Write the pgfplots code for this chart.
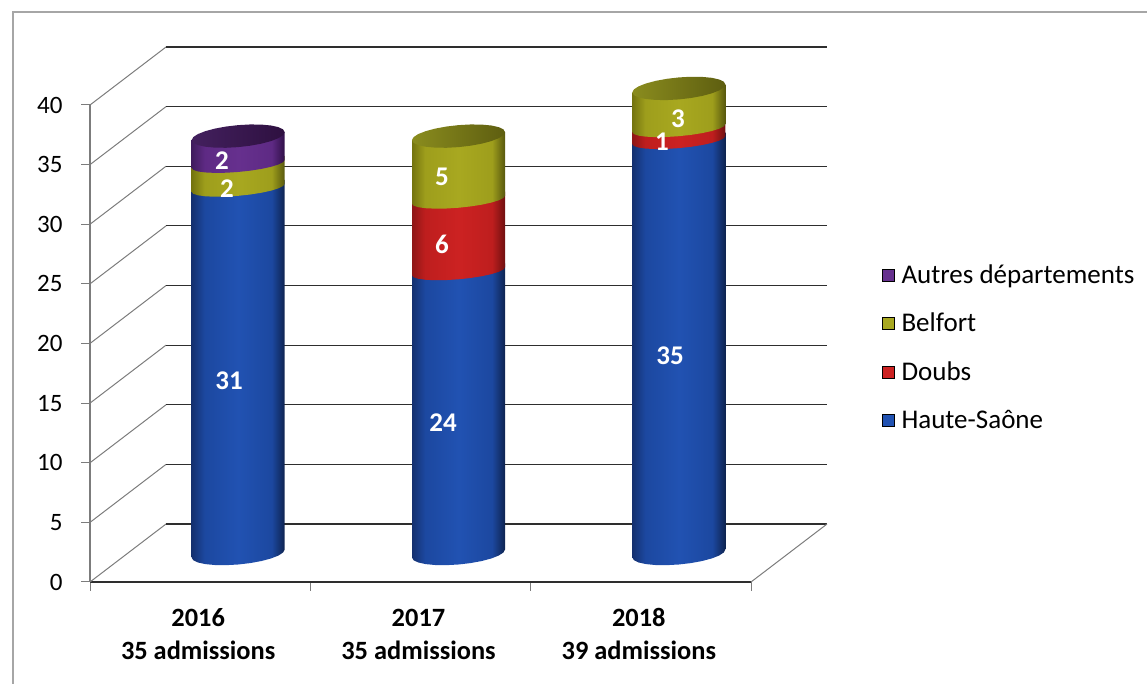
\documentclass[border=0pt]{standalone}
\usepackage{fontspec}
\setmainfont{Carlito}
\usepackage{pgfplots}
\usepackage{pgfplotstable}
\pgfplotsset{compat=1.18}

\definecolor{bE}{HTML}{14306F}\definecolor{bL}{HTML}{1C48A0}\definecolor{bM}{HTML}{2152B2}\definecolor{bR}{HTML}{0E2350}
\definecolor{rE}{HTML}{8E1616}\definecolor{rL}{HTML}{BE1E1E}\definecolor{rM}{HTML}{CC2222}\definecolor{rR}{HTML}{701010}
\definecolor{oE}{HTML}{74740F}\definecolor{oL}{HTML}{9E9E1C}\definecolor{oM}{HTML}{A8A820}\definecolor{oR}{HTML}{58580E}
\definecolor{pE}{HTML}{401C5E}\definecolor{pL}{HTML}{5E2A84}\definecolor{pM}{HTML}{66308E}\definecolor{pR}{HTML}{301048}
\definecolor{oT1}{HTML}{8A8C1E}\definecolor{oT2}{HTML}{5E5E10}
\definecolor{pT1}{HTML}{43205E}\definecolor{pT2}{HTML}{2E1040}

% Horizontal shadings that give the cylinders their round look
\pgfdeclarehorizontalshading{blueshade}{100bp}{color(0bp)=(bE);color(25bp)=(bE);color(32bp)=(bL);color(50bp)=(bM);color(68bp)=(bL);color(75bp)=(bR);color(100bp)=(bR)}
\pgfdeclarehorizontalshading{redshade}{100bp}{color(0bp)=(rE);color(25bp)=(rE);color(32bp)=(rL);color(50bp)=(rM);color(68bp)=(rL);color(75bp)=(rR);color(100bp)=(rR)}
\pgfdeclarehorizontalshading{oliveshade}{100bp}{color(0bp)=(oE);color(25bp)=(oE);color(32bp)=(oL);color(50bp)=(oM);color(68bp)=(oL);color(75bp)=(oR);color(100bp)=(oR)}
\pgfdeclarehorizontalshading{purpleshade}{100bp}{color(0bp)=(pE);color(25bp)=(pE);color(32bp)=(pL);color(50bp)=(pM);color(68bp)=(pL);color(75bp)=(pR);color(100bp)=(pR)}
\pgfdeclarehorizontalshading{olivecap}{100bp}{color(0bp)=(oT1);color(25bp)=(oT1);color(75bp)=(oT2);color(100bp)=(oT2)}
\pgfdeclarehorizontalshading{purplecap}{100bp}{color(0bp)=(pT1);color(25bp)=(pT1);color(75bp)=(pT2);color(100bp)=(pT2)}

% Front half of a cylinder slice, closed by its two upper corners
\pgfplotstableread{
c s u
-1 0 0
-0.966 -0.259 0
-0.866 -0.5 0
-0.707 -0.707 0
-0.5 -0.866 0
-0.259 -0.966 0
0 -1 0
0.259 -0.966 0
0.5 -0.866 0
0.707 -0.707 0
0.866 -0.5 0
0.966 -0.259 0
1 0 0
1 0 1
-1 0 1
}\slicetable

% Full ring of the top face
\pgfplotstableread{
c s
1 0
0.966 0.259
0.866 0.5
0.707 0.707
0.5 0.866
0.259 0.966
0 1
-0.259 0.966
-0.5 0.866
-0.707 0.707
-0.866 0.5
-0.966 0.259
-1 0
-0.966 -0.259
-0.866 -0.5
-0.707 -0.707
-0.5 -0.866
-0.259 -0.966
0 -1
0.259 -0.966
0.5 -0.866
0.707 -0.707
0.866 -0.5
0.966 -0.259
}\captable

% Depth shift of the cylinders and shape of their ellipses, in axis units
\newcommand{\depthx}{0.1725}
\newcommand{\depthy}{2.39}
\newcommand{\halfwidth}{0.2111}
\newcommand{\tilt}{0.3354}

% #1 category, #2 lower value, #3 upper value, #4 shading, #5 arc depth, #6 arc drop
\newcommand{\slice}[6]{%
  \addplot[forget plot,draw=none,shading=#4] table[
    x expr={#1+\depthx+\halfwidth*\thisrow{c}},
    y expr={\depthy+(1-\thisrow{u})*#2+\thisrow{u}*#3+\tilt*\thisrow{c}+#5*\thisrow{s}-#6*(1-\thisrow{u})}
  ] {\slicetable};}
% #1 category, #2 value at the top, #3 shading
\newcommand{\topface}[3]{%
  \addplot[forget plot,draw=none,shading=#3] table[
    x expr={#1+\depthx+\halfwidth*\thisrow{c}},
    y expr={\depthy+#2+\tilt*\thisrow{c}+0.9224*\thisrow{s}}
  ] {\captable};}

\definecolor{wallgrey}{HTML}{7C7C7C}
\definecolor{gridblack}{HTML}{2E2E2E}
\definecolor{framegrey}{HTML}{A6A6A6}

\begin{document}
\begin{tikzpicture}[x=1pt,y=1pt]
\path[use as bounding box] (0,0) rectangle (1147,684);
% Outer frame of the chart area
\draw[framegrey,line width=1.4pt] (13,0) -- (13,672) -- (1147,672);

\begin{axis}[
  at={(90pt,102pt)},anchor=south west,
  scale only axis,width=661pt,height=477pt,
  xmin=-0.5,xmax=2.5,ymin=0,ymax=40,
  clip=false,
  axis x line*=bottom,axis y line*=left,
  axis line style={-,draw=wallgrey,line width=1.2pt},
  x axis line style={draw=gridblack,line width=1.2pt},
  ytick={0,5,...,40},
  xtick={-0.5,0.5,1.5,2.5},xticklabels={},
  extra x ticks={0,1,2},
  extra x tick labels={{\strut 2016\\35 admissions},{\strut 2017\\35 admissions},{\strut 2018\\39 admissions}},
  extra x tick style={major tick length=0pt},
  xticklabel style={align=center,font=\fontsize{26.4}{33}\selectfont\bfseries,yshift=-18pt,xshift=-2pt},
  yticklabel style={font=\fontsize{25}{25}\selectfont,xshift=-15pt},
  /pgf/number format/assume math mode=true,
  tick align=outside,major tick length=9pt,
  tick style={draw=wallgrey,line width=1pt},
  legend style={at={(1.1935,0.674)},anchor=north west,draw=none,fill=none,
    font=\fontsize{27}{27}\selectfont,row sep=24.2pt,
    /tikz/every odd column/.append style={column sep=5pt}},
  legend cell align=left,
  legend image code/.code={\fill[#1] (-3pt,-6pt) rectangle (9pt,6pt);},
]
% Floor and back wall of the box
\pgfplotsinvokeforeach{0,5,...,40}{
  \draw[wallgrey,line width=1pt] (axis cs:-0.5,#1) -- (axis cs:-0.155,{#1+4.863});
  \draw[gridblack,line width=1.2pt] (axis cs:-0.155,{#1+4.863}) -- (axis cs:2.845,{#1+4.863});
}
\draw[wallgrey,line width=1pt] (axis cs:2.5,0) -- (axis cs:2.845,4.863);

% 2016: 31 + 2 + 2
\slice{0}{0}{31}{blueshade}{0.9224}{0}
\slice{0}{31}{33}{oliveshade}{0.6709}{0.3354}
\slice{0}{33}{35}{purpleshade}{0.6709}{0.3354}
\topface{0}{35}{purplecap}
% 2017: 24 + 6 + 5
\slice{1}{0}{24}{blueshade}{0.9224}{0}
\slice{1}{24}{30}{redshade}{0.6709}{0.3354}
\slice{1}{30}{35}{oliveshade}{0.6709}{0.3354}
\topface{1}{35}{olivecap}
% 2018: 35 + 1 + 3
\slice{2}{0}{35}{blueshade}{0.9224}{0}
\slice{2}{35}{36}{redshade}{0.6709}{0.3354}
\slice{2}{36}{39}{oliveshade}{0.6709}{0.3354}
\topface{2}{39}{olivecap}

\addlegendimage{fill=pM}\addlegendentry{Autres départements}
\addlegendimage{fill=oM}\addlegendentry{Belfort}
\addlegendimage{fill=rM}\addlegendentry{Doubs}
\addlegendimage{fill=bM}\addlegendentry{Haute-Saône}
\end{axis}

% Values written on the slices
\begin{scope}[every node/.style={text=white,font=\fontsize{27}{27}\selectfont\bfseries}]
\node at (229,303) {31};
\node at (222,523) {2};
\node at (227,495) {2};
\node at (443,261) {24};
\node at (442,440) {6};
\node at (442,507) {5};
\node at (670,328) {35};
\node at (662,542) {1};
\node at (678,565) {3};
\end{scope}
\end{tikzpicture}
\end{document}
